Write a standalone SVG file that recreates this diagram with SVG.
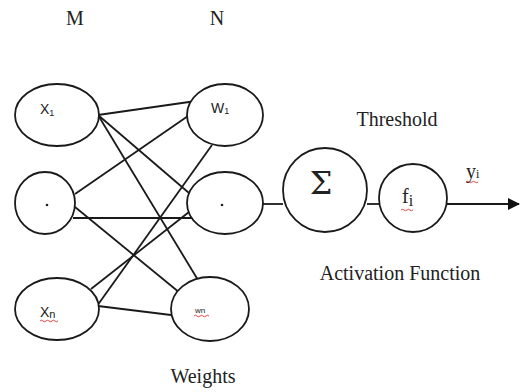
<svg xmlns="http://www.w3.org/2000/svg" width="520" height="392" viewBox="0 0 520 392">
<defs>
<style>
.n{fill:#fff;stroke:#1a1a1a;stroke-width:1.8}
.c{stroke:#1a1a1a;stroke-width:1.8;fill:none}
.t{font-family:"Liberation Serif",serif;font-size:20px;fill:#222}
.s{font-family:"Liberation Sans",Arial,sans-serif;fill:#222}
.sq{stroke:#d33;stroke-width:0.9;fill:none}
</style>
<marker id="ah" markerWidth="12" markerHeight="12" refX="11" refY="6" orient="auto" markerUnits="userSpaceOnUse">
<path d="M0,0 L12,6 L0,12 z" fill="#111"/>
</marker>
</defs>
<rect width="520" height="392" fill="#fff"/>
<g id="connectors">
<line class="c" x1="98" y1="115" x2="196" y2="101"/>
<line class="c" x1="98" y1="115" x2="189" y2="193"/>
<line class="c" x1="98" y1="115" x2="198" y2="280"/>
<line class="c" x1="75" y1="194" x2="188" y2="116"/>
<line class="c" x1="73" y1="218" x2="192" y2="218"/>
<line class="c" x1="75" y1="207" x2="180" y2="293"/>
<line class="c" x1="91" y1="289" x2="189" y2="212"/>
<line class="c" x1="97" y1="306" x2="212" y2="145"/>
<line class="c" x1="98" y1="306" x2="171" y2="315"/>
<line class="c" x1="263" y1="204" x2="283" y2="204"/>
<line class="c" x1="367" y1="204" x2="379" y2="204"/>
<line class="c" x1="447" y1="204" x2="519" y2="204" marker-end="url(#ah)"/>
</g>
<g id="x1">
<ellipse class="n" cx="57" cy="115" rx="42" ry="31"/>
<text class="s" x="40" y="114" font-size="14">X<tspan font-size="9" dy="2">1</tspan></text>
</g>
<g id="xmid">
<ellipse class="n" cx="45" cy="203" rx="30" ry="31"/>
<circle cx="47" cy="205" r="1.3" fill="#222"/>
</g>
<g id="xn">
<ellipse class="n" cx="57" cy="309" rx="42" ry="31"/>
<text class="s" x="40" y="317" font-size="14">X<tspan font-size="11" dy="1">n</tspan></text>
<path class="sq" d="M40,321 q1.5,-1.5 3,0 t3,0 t3,0 t3,0 t3,0 t3,0"/>
</g>
<g id="w1">
<ellipse class="n" cx="225" cy="115" rx="38" ry="31"/>
<text class="s" x="211" y="113" font-size="14">W<tspan font-size="9" dy="1">1</tspan></text>
</g>
<g id="wmid">
<ellipse class="n" cx="225" cy="203" rx="38" ry="31"/>
<circle cx="222" cy="205" r="1.3" fill="#222"/>
</g>
<g id="wn">
<ellipse class="n" cx="210" cy="309" rx="39" ry="32"/>
<text class="s" x="195" y="313" font-size="8">wn</text>
<path class="sq" d="M194,316 q1.5,-1.5 3,0 t3,0 t3,0 t3,0 t3,0"/>
</g>
<g id="sum">
<circle class="n" cx="325" cy="190" r="42"/>
<text x="321" y="194" font-family="'DejaVu Serif',serif" font-size="32" fill="#222" text-anchor="middle">Σ</text>
</g>
<g id="f">
<circle class="n" cx="413" cy="198" r="34"/>
<text class="t" x="402" y="203" font-size="21">f<tspan dy="3" font-size="16">i</tspan></text>
<path class="sq" d="M401,210 q1.5,-1.5 3,0 t3,0 t3,0 t3,0"/>
</g>
<g id="labels">
<text class="t" x="75" y="25" text-anchor="middle">M</text>
<text class="t" x="217" y="25" text-anchor="middle">N</text>
<text class="t" x="397" y="126" text-anchor="middle" font-size="21">Threshold</text>
<text class="t" x="400" y="280" text-anchor="middle" font-size="21">Activation Function</text>
<text class="t" x="203" y="383" text-anchor="middle" font-size="21">Weights</text>
<text class="t" x="466" y="178" font-size="15">y<tspan font-size="12">i</tspan></text>
<path class="sq" d="M466,182 q1.5,-1.5 3,0 t3,0 t3,0 t3,0"/>
</g>
</svg>
